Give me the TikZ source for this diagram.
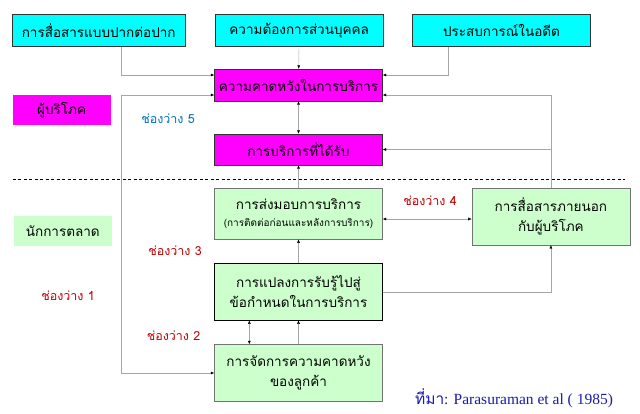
\documentclass[tikz,border=0pt]{standalone}
\usepackage{fontspec}
\setmainfont{Liberation Serif}
\newfontfamily\thai[Script=Thai]{Loma}
\usepackage{tikz}
\usetikzlibrary{arrows.meta, positioning, calc}
\definecolor{aqua}{HTML}{00FFFF}
\definecolor{pink}{HTML}{FF00FF}
\definecolor{mint}{HTML}{CCFFCC}
\definecolor{gapred}{HTML}{C00000}
\definecolor{gapblue}{HTML}{0070C0}
\definecolor{srcblue}{HTML}{1A1AB0}

\begin{document}
\begin{tikzpicture}[
  x=1pt, y=-1pt,
  box/.style={draw=black!80, align=center, font=\thai\fontsize{13.5}{20}\selectfont, minimum height=32pt, inner sep=1pt},
  cons/.style={box, fill=aqua},
  cust/.style={box, fill=pink, minimum width=168pt},
  firm/.style={box, fill=mint, draw=black!55, minimum width=168pt},
  tag/.style={font=\thai\fontsize{13.5}{16}\selectfont, minimum height=30pt, minimum width=98pt},
  gap/.style={font=\thai\fontsize{12.5}{14}\selectfont, text=gapred},
  conn/.style={draw=black!35},
  >={Latex[length=3.5pt, width=3pt, black]}
]
\useasboundingbox (0,0) rectangle (640,414);

% consumer side
\node[cons, minimum width=173pt] (wom) at (98.7,30.5) {การสื่อสารแบบปากต่อปาก};
\node[cons, minimum width=168pt] (needs) at (299.2,30.5) {ความต้องการส่วนบุคคล};
\node[cons, minimum width=178pt] (past) at (501.5,30.5) {ประสบการณ์ในอดีต};
\node[cust] (expect) at (298.5,85) {ความคาดหวังในการบริการ};
\node[cust, minimum height=31pt] (received) at (298.5,149.5) {การบริการที่ได้รับ};
\node[tag, fill=pink] (consumer) at (61.7,110.3) {ผู้บริโภค};

% marketer side
\node[firm, minimum height=51pt] (delivery) at (298.5,213.7) {การส่งมอบการบริการ\\[-3pt]{\fontsize{10}{12}\selectfont (การติดต่อก่อนและหลังการบริการ)}};
\node[firm, minimum width=158pt, minimum height=57pt] (extcom) at (550.9,216.3) {การสื่อสารภายนอก\\กับผู้บริโภค};
\node[tag, fill=mint] (marketer) at (62.8,230.8) {นักการตลาด};
\node[firm, draw=black, minimum height=57pt] (convert) at (298.5,291.7) {การแปลงการรับรู้ไปสู่\\ข้อกำหนดในการบริการ};
\node[firm, minimum height=57pt] (manage) at (298.5,373) {การจัดการความคาดหวัง\\ของลูกค้า};

% gaps
\node[gap, text=gapblue] (gap5) at (168,118.3) {ช่องว่าง 5};
\node[gap] (gap4) at (430,200.7) {ช่องว่าง 4};
\node[gap] (gap3) at (175,251) {ช่องว่าง 3};
\node[gap] (gap1) at (68,296) {ช่องว่าง 1};
\node[gap] (gap2) at (173.5,335.7) {ช่องว่าง 2};
\node[text=srcblue, font=\fontsize{15.5}{18}\selectfont] (source) at (514,398) {{\thai ที่มา}: Parasuraman et al ( 1985)};

\coordinate (lbus) at (120.7,0);
\coordinate (inA) at ([yshift=10pt]expect.west);
\coordinate (inB) at ([yshift=-10pt]expect.west);
\coordinate (inC) at ([yshift=10pt]expect.east);
\coordinate (inD) at ([yshift=-10pt]expect.east);

\draw[dashed, dash pattern=on 3pt off 2.5pt] (12.7,179) -- (625,179);

\draw[conn, ->] (lbus |- wom.south) |- (inA);
\draw[conn, ->] (needs) -- (expect);
\draw[conn, ->] ($(past.south)+(-53.8,0)$) |- (inC);
\draw[conn, <->] (manage.west) -| (lbus |- inB) -- (inB);
\draw[conn, <->] (expect) -- (received);
\draw[conn, ->] (delivery) -- (received);
\draw[conn, ->] (convert) -- (delivery);
\draw[conn, <->] ([yshift=-5.3pt]delivery.east) -- (extcom.west |- 0,219);
\draw[conn, ->] (extcom.north) |- (inD);
\draw[conn, ->] (extcom.north |- received.east) -- (received.east);
\draw[conn, ->] (convert.east) -| (extcom.south);
\draw[conn, <->] ([xshift=-49.2pt]manage.north) -- ([xshift=-49.2pt]convert.south);
\draw[conn, ->] (manage) -- (convert);
\end{tikzpicture}
\end{document}
